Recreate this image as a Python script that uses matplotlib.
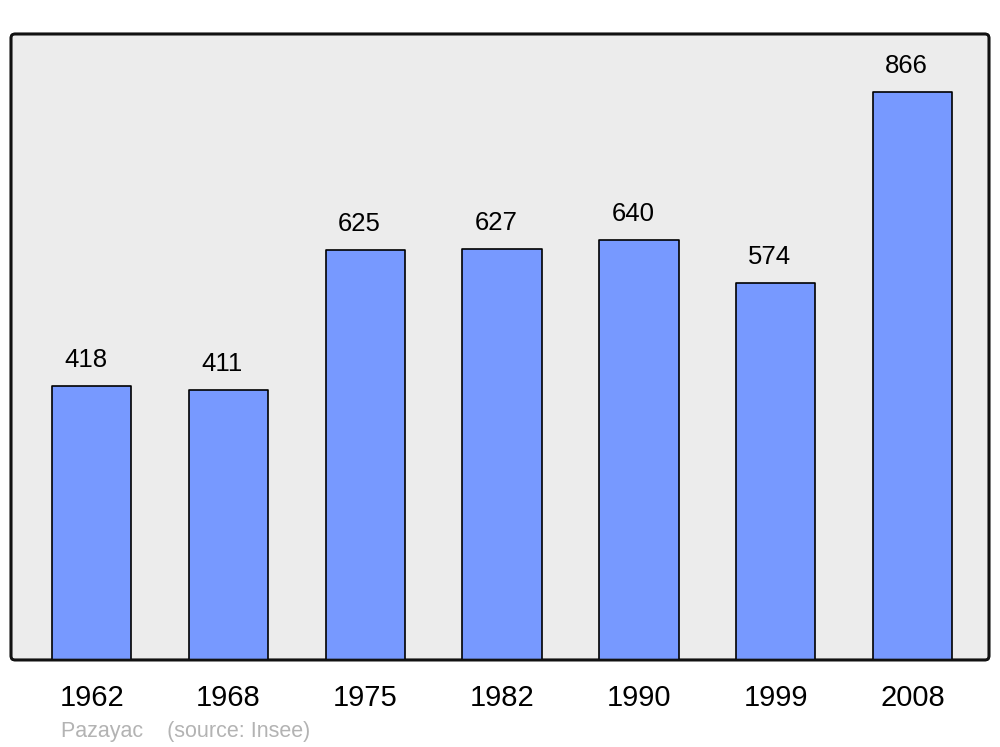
import matplotlib
matplotlib.use("Agg")
import matplotlib.pyplot as plt
from matplotlib.patches import FancyBboxPatch

years = ["1962", "1968", "1975", "1982", "1990", "1999", "2008"]
population = [418, 411, 625, 627, 640, 574, 866]
source_text = "Pazayac    (source: Insee)"

plt.rcParams['font.family'] = ['Liberation Sans', 'DejaVu Sans']

fig = plt.figure(figsize=(10, 7.47), dpi=100)
ax = fig.add_axes([0.011, 0.1165, 0.978, 0.838])
ax.set_facecolor('none')

x = list(range(len(years)))
bars = ax.bar(x, population, width=0.58, color='#7799ff', edgecolor='black',
              linewidth=1.2, zorder=3)
for b in bars:
    b.set_joinstyle('round')

for xi, v in zip(x, population):
    ax.annotate(str(v), (xi, v), xytext=(-6, 26), textcoords='offset pixels',
                ha='center', va='center', fontsize=18.5, color='black')

ax.set_xlim(-0.59, 6.56)
ax.set_ylim(0, 954)
ax.set_xticks(x)
ax.set_xticklabels(years, fontsize=21)
ax.tick_params(axis='x', length=0, pad=17)
ax.set_yticks([])
for s in ax.spines.values():
    s.set_visible(False)

frame = FancyBboxPatch((0, 0), 1, 1, boxstyle="round,pad=0,rounding_size=0.004",
                       mutation_aspect=978/626, transform=ax.transAxes,
                       facecolor='#ececec', edgecolor='#111111', linewidth=1.9,
                       zorder=0, clip_on=False)
ax.add_patch(frame)
frame2 = FancyBboxPatch((0, 0), 1, 1, boxstyle="round,pad=0,rounding_size=0.004",
                        mutation_aspect=978/626, transform=ax.transAxes,
                        facecolor='none', edgecolor='#111111', linewidth=1.9,
                        zorder=5, clip_on=False)
ax.add_patch(frame2)

fig.text(0.061, 1 - 731/747, source_text, fontsize=15.5, color='#b3b3b3',
         ha='left', va='center')

fig.savefig('out.png', dpi=100, facecolor='white')
